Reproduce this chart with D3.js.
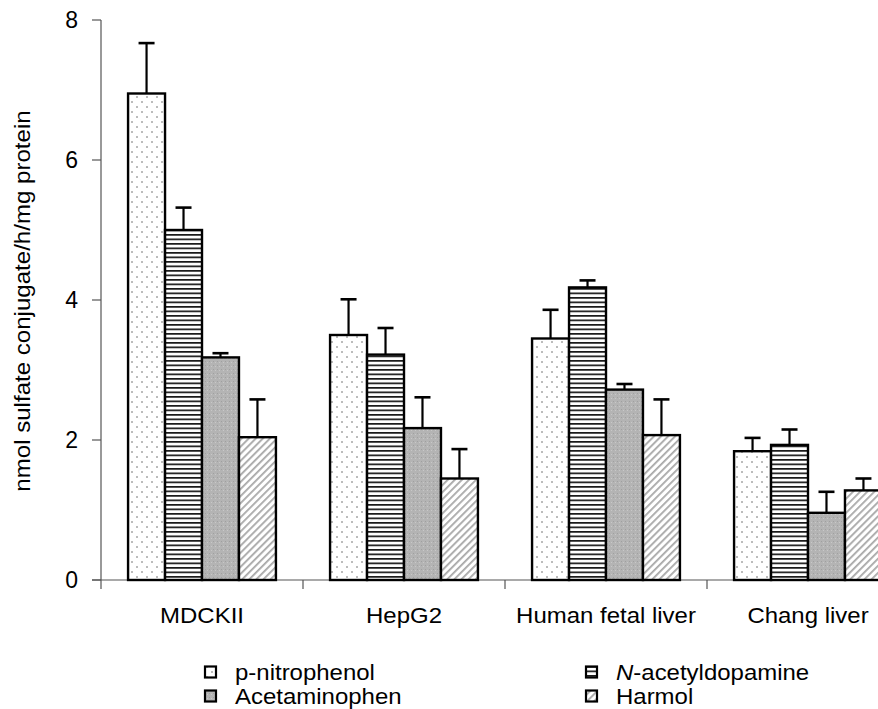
<!DOCTYPE html>
<html>
<head>
<meta charset="utf-8">
<script src="https://cdn.jsdelivr.net/npm/d3@7"></script>
<style>
  html, body { margin: 0; padding: 0; background: #fff; }
  svg { display: block; font-family: "Liberation Sans", Arial, sans-serif; }
</style>
</head>
<body>
<svg id="chart" width="878" height="709"></svg>
<script>
const categories = ["MDCKII", "HepG2", "Human fetal liver", "Chang liver"];
const seriesNames = ["p-nitrophenol", "N-acetyldopamine", "Acetaminophen", "Harmol"];
const means = {
  "p-nitrophenol":    [6.95, 3.50, 3.45, 1.84],
  "N-acetyldopamine": [5.00, 3.22, 4.18, 1.93],
  "Acetaminophen":    [3.18, 2.17, 2.72, 0.96],
  "Harmol":           [2.04, 1.45, 2.07, 1.28]
};
const errors = {
  "p-nitrophenol":    [0.72, 0.51, 0.41, 0.19],
  "N-acetyldopamine": [0.32, 0.38, 0.10, 0.22],
  "Acetaminophen":    [0.06, 0.44, 0.08, 0.30],
  "Harmol":           [0.54, 0.42, 0.51, 0.17]
};
const yTicks = [0, 2, 4, 6, 8];
const yLabel = "nmol sulfate conjugate/h/mg protein";

const svg = d3.select("#chart");
const defs = svg.append("defs");

// patterns
const pDots = defs.append("pattern").attr("id", "pat-dots")
  .attr("patternUnits", "userSpaceOnUse").attr("width", 10).attr("height", 10);
pDots.append("rect").attr("width", 10).attr("height", 10).attr("fill", "#fff");
pDots.append("circle").attr("cx", 2).attr("cy", 2).attr("r", 0.8).attr("fill", "#666");
pDots.append("circle").attr("cx", 7).attr("cy", 7).attr("r", 0.8).attr("fill", "#666");

const pLines = defs.append("pattern").attr("id", "pat-hlines")
  .attr("patternUnits", "userSpaceOnUse").attr("width", 8).attr("height", 4.5);
pLines.append("rect").attr("width", 8).attr("height", 4.5).attr("fill", "#fff");
pLines.append("rect").attr("y", 0).attr("width", 8).attr("height", 1.7).attr("fill", "#1a1a1a");

const pGray = defs.append("pattern").attr("id", "pat-gray")
  .attr("patternUnits", "userSpaceOnUse").attr("width", 4).attr("height", 4);
pGray.append("rect").attr("width", 4).attr("height", 4).attr("fill", "#b4b4b4");
pGray.append("rect").attr("x", 1).attr("y", 1).attr("width", 1).attr("height", 1).attr("fill", "#a0a0a0");
pGray.append("rect").attr("x", 3).attr("y", 2).attr("width", 1).attr("height", 1).attr("fill", "#c8c8c8");

const pHatch = defs.append("pattern").attr("id", "pat-hatch")
  .attr("patternUnits", "userSpaceOnUse").attr("width", 5).attr("height", 5)
  .attr("patternTransform", "rotate(45)");
pHatch.append("rect").attr("width", 5).attr("height", 5).attr("fill", "#fff");
pHatch.append("rect").attr("x", 0).attr("width", 1.8).attr("height", 5).attr("fill", "#a8a8a8");

const fills = {
  "p-nitrophenol": "url(#pat-dots)",
  "N-acetyldopamine": "url(#pat-hlines)",
  "Acetaminophen": "url(#pat-gray)",
  "Harmol": "url(#pat-hatch)"
};

const x0 = d3.scaleBand().domain(categories).range([101, 909]).padding(0);
const x1 = d3.scaleBand().domain(seriesNames)
  .range([x0.bandwidth() * 0.134, x0.bandwidth() * 0.866]).padding(0);
const y = d3.scaleLinear().domain([0, 8]).range([580, 20]);

// axes
const axisColor = "#555";
svg.append("line").attr("x1", 101).attr("x2", 101).attr("y1", y(8)).attr("y2", y(0))
  .attr("stroke", axisColor).attr("stroke-width", 1.2);
svg.append("line").attr("x1", 92).attr("x2", 878).attr("y1", y(0)).attr("y2", y(0))
  .attr("stroke", axisColor).attr("stroke-width", 1.2);

const yAxis = svg.append("g");
yAxis.selectAll("line").data(yTicks).join("line")
  .attr("x1", 92).attr("x2", 101).attr("y1", d => y(d)).attr("y2", d => y(d))
  .attr("stroke", axisColor).attr("stroke-width", 1.2);
yAxis.selectAll("text").data(yTicks).join("text")
  .attr("x", 78).attr("y", d => y(d)).attr("dy", "0.36em")
  .attr("text-anchor", "end").attr("font-size", 23).attr("fill", "#000")
  .text(d => d);

const xAxis = svg.append("g");
xAxis.selectAll("line").data(categories).join("line")
  .attr("x1", d => x0(d)).attr("x2", d => x0(d)).attr("y1", y(0)).attr("y2", y(0) + 9)
  .attr("stroke", axisColor).attr("stroke-width", 1.2);
xAxis.selectAll("text").data(categories).join("text")
  .attr("transform", d => `translate(${x0(d) + x0.bandwidth() / 2},623) scale(1.09,1)`)
  .attr("text-anchor", "middle").attr("font-size", 22).attr("fill", "#000")
  .text(d => d);

// y label
svg.append("text")
  .attr("transform", "translate(30,301) rotate(-90) scale(1.07,1)")
  .attr("text-anchor", "middle").attr("font-size", 22.5).attr("fill", "#000")
  .text(yLabel);

// bars
const data = [];
categories.forEach((c, i) => {
  seriesNames.forEach(s => {
    data.push({ cat: c, series: s, v: means[s][i], e: errors[s][i] });
  });
});

const barG = svg.append("g");
barG.selectAll("line.err").data(data).join("line").attr("class", "err")
  .attr("x1", d => x0(d.cat) + x1(d.series) + x1.bandwidth() / 2)
  .attr("x2", d => x0(d.cat) + x1(d.series) + x1.bandwidth() / 2)
  .attr("y1", d => y(d.v)).attr("y2", d => y(d.v + d.e))
  .attr("stroke", "#000").attr("stroke-width", 2.2);
barG.selectAll("line.cap").data(data).join("line").attr("class", "cap")
  .attr("x1", d => x0(d.cat) + x1(d.series) + x1.bandwidth() / 2 - 8)
  .attr("x2", d => x0(d.cat) + x1(d.series) + x1.bandwidth() / 2 + 8)
  .attr("y1", d => y(d.v + d.e)).attr("y2", d => y(d.v + d.e))
  .attr("stroke", "#000").attr("stroke-width", 2.6);
barG.selectAll("rect").data(data).join("rect")
  .attr("x", d => x0(d.cat) + x1(d.series))
  .attr("y", d => y(d.v))
  .attr("width", x1.bandwidth())
  .attr("height", d => y(0) - y(d.v))
  .attr("fill", d => fills[d.series])
  .attr("stroke", "#000").attr("stroke-width", 2.4);

// legend
const legendItems = [
  { name: "p-nitrophenol", x: 205, y: 672 },
  { name: "Acetaminophen", x: 205, y: 696 },
  { name: "N-acetyldopamine", x: 586, y: 672 },
  { name: "Harmol", x: 586, y: 696 }
];
const lg = svg.append("g");
const items = lg.selectAll("g").data(legendItems).join("g");
items.append("rect")
  .attr("x", d => d.x).attr("y", d => d.y - 5.5)
  .attr("width", 11).attr("height", 11)
  .attr("fill", d => fills[d.name]).attr("stroke", "#000").attr("stroke-width", 2.2);
items.each(function(d) {
  const t = d3.select(this).append("text")
    .attr("transform", `translate(${d.x + 30},${d.y}) scale(1.09,1)`)
    .attr("dy", "0.36em")
    .attr("font-size", 22).attr("fill", "#000");
  if (d.name === "N-acetyldopamine") {
    t.append("tspan").attr("font-style", "italic").text("N");
    t.append("tspan").text("-acetyldopamine");
  } else {
    t.text(d.name);
  }
});
</script>
</body>
</html>
